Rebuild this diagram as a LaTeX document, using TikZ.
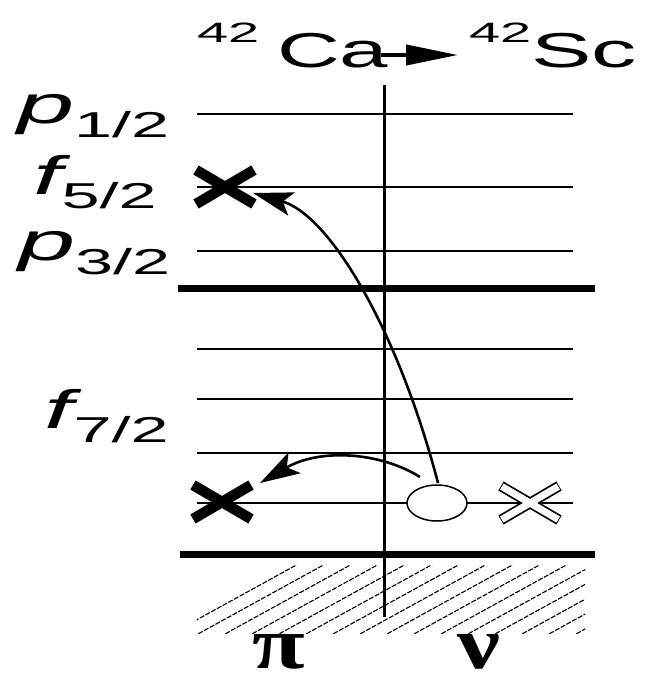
\documentclass[tikz,border=0pt]{standalone}
\usepackage{fontspec}
\setmainfont{Liberation Sans}
\newfontfamily\grk{Liberation Serif}
\usetikzlibrary{arrows.meta,shapes.geometric}
\begin{document}
\begin{tikzpicture}[x=1pt,y=-1pt,
  lab/.style={anchor=base west,inner sep=0pt,outer sep=0pt},
  lvl/.style={line width=2pt},
  shell/.style={line width=7pt},
  axis/.style={line width=3pt},
  hatch/.style={line width=1.1pt,dash pattern=on 5pt off 1.5pt},
  crossline/.style={line width=10.5pt},
  trans/.style={line width=2.6pt,-{Stealth[length=40pt,width=24pt,inset=9pt]}}
]
\useasboundingbox (0,0) rectangle (656,681);
% title
\node[lab] (t42a) at (197,42) {\scalebox{2}[1]{\fontsize{28}{28}\selectfont 42}};
\node[lab] (tCa) at (277,67) {\scalebox{1.78}[1]{\fontsize{49}{49}\selectfont Ca}};
\node[lab] (t42b) at (469,42) {\scalebox{2}[1]{\fontsize{28}{28}\selectfont 42}};
\node[lab] (tSc) at (531,67) {\scalebox{1.85}[1]{\fontsize{49}{49}\selectfont Sc}};
\coordinate (ta) at (381,55);
\coordinate (tb) at (458,55);
\draw[line width=4pt,-{Triangle[length=52pt,width=20pt]}] (ta) -- (tb);
% levels
\foreach \y in {114,187,251,349,399,453,503} \draw[lvl] (197,\y) -- (573,\y);
\draw[shell] (178,288) -- (595,288);
\draw[shell] (180,554) -- (595,554);
% hatch
\begin{scope}
\clip (197,565) rectangle (585,633);
\foreach \i in {0,...,20} \draw[hatch] (160+27*\i,640) -- ++(140,-77);
\end{scope}
% axis
\draw[axis] (384,85) -- (384,617);
% labels
\node[lab] (lp1) at (17,123) {\scalebox{1.9}[1]{\fontsize{54}{54}\selectfont\itshape p\raisebox{-14pt}{\upshape\fontsize{36}{36}\selectfont 1/2}}};
\node[lab] (lf5) at (33,194) {\scalebox{1.9}[1]{\fontsize{54}{54}\selectfont\itshape f\raisebox{-14pt}{\upshape\fontsize{36}{36}\selectfont 5/2}}};
\node[lab] (lp3) at (18,260) {\scalebox{1.9}[1]{\fontsize{54}{54}\selectfont\itshape p\raisebox{-14pt}{\upshape\fontsize{36}{36}\selectfont 3/2}}};
\node[lab] (lf7) at (45,428) {\scalebox{1.9}[1]{\fontsize{54}{54}\selectfont\itshape f\raisebox{-14pt}{\upshape\fontsize{36}{36}\selectfont 7/2}}};
% Greek
\node[lab] (gpi) at (252,668) {\scalebox{1.3}[1]{\grk\bfseries\fontsize{74}{74}\selectfont π}};
\node[lab] (gnu) at (457,668) {\scalebox{1.3}[1]{\grk\bfseries\fontsize{74}{74}\selectfont ν}};
% particles
\coordinate (pa) at (225,187);
\coordinate (pb) at (222,502);
\coordinate (nx) at (530,503);
\foreach \c in {pa,pb} {
  \draw[crossline] ([shift={(-29,-17)}]\c) -- ([shift={(29,17)}]\c);
  \draw[crossline] ([shift={(-29,17)}]\c) -- ([shift={(29,-17)}]\c);
}
\draw[crossline] ([shift={(-29,-17)}]nx) -- ([shift={(29,17)}]nx);
\draw[crossline] ([shift={(-29,17)}]nx) -- ([shift={(29,-17)}]nx);
\draw[line width=7pt,white] ([shift={(-28.2,-16.5)}]nx) -- ([shift={(28.2,16.5)}]nx);
\draw[line width=7pt,white] ([shift={(-28.2,16.5)}]nx) -- ([shift={(28.2,-16.5)}]nx);
\node[ellipse,draw,line width=1.5pt,fill=white,minimum width=60pt,minimum height=36pt,inner sep=0pt] (hole) at (437,503) {};
% transitions
\coordinate (sa) at (438,483);
\coordinate (ea) at (253,193);
\coordinate (sb) at (420,477);
\coordinate (eb) at (260,483);
\draw[trans] (sa) .. controls (398,330) and (330,215) .. (ea);
\draw[trans] (sb) .. controls (380,452) and (320,448) .. (eb);
\end{tikzpicture}
\end{document}
